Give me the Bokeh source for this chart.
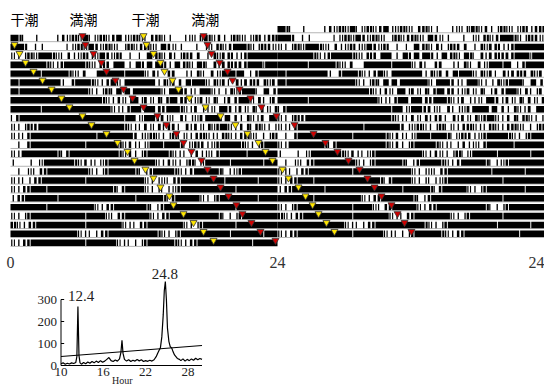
from bokeh.plotting import figure
from bokeh.models import Range1d
from bokeh.core.properties import value
from bokeh.embed import file_html
from bokeh.resources import INLINE

# ---------------- data ----------------
# activity per day, 48 half-hour bins:
# '#' black, ':' black with thin white gap, 'n' black with two gaps, 'b' first half black,
# 'd' second half black, 'm' short burst, 'i' / 'j' / 'l' one thin burst, 'k' two thin bursts, '.' none
day_activity = [
    "#:j.l...imk:" "k#jk:km#lk:k" "jm:kl..ikjn:" "kmil:kjk:lm:",
    "##:.il....jk" ":k#mk:kjl:km" ":kj#mkl..i.k" "j:km##:kl:mk",
    "kil:k##:kjmi" "k:lk#mk:.i.j" "db:kdil:md.i" "dkb:li:#####",
    "######:ki:##" "#:kj:md#bid:" "db#:ldb:kd:j" "dib:mb:##n##",
    "#####:####:k" "jb.d####:###" "kdi.mb.lidk." "bk##:#.j:###",
    "#:#######i.:" "##:kim#kd###" "##ldkbmd:##k" "dkbjdib:mdkb",
    "#:##########" "##kil:j#db##" "###kd##mij##" "kildk:##jdbm",
    "############" "####:kimkd#l" "bkdj:#dmikbk" "djibm##kdilb",
    "#####:######" "######kij:#b" "##dm##:kibli" "kd#mibkdjbkd",
    "j:##########" "########:#bk" "##mbkjdilkb#" "##dbmidkibd#",
    "kil:m#######" "########:kij" "bkdimbjdibkd" "k:#kimdj:kil",
    "kij:########" "###:######ml" "k:kil:jkim:k" "ij:kim:kjil:",
    ".i.:########" "#:#####:kmij" "k##:##:jk:mi" "k:###:kil:##",
    "ki######:j:#" "#######:kmil" ":###:kijimik" "j:####:#####",
    "i..l.k#####:" "kmijk:######" "##kimkil:jk#" "###:#####:##",
    ".i.kjm:#####" "##kil:####:j" "i:###:kim###" "#:jik:######",
    "kijim:######" "#:##########" "kilkjm:#####" "##:#####:###",
    "kim:##:#####" "######:j:###" "kiljik:#####" "####:#######",
    "im:#####:###" "##########:#" "###:j:####ki" "l:######:###",
    "######:#####" "###kim:#####" ":ji:########" "####:#######",
    "kil:########" "#:###kjm:###" "#kim:#######" "#:jil:######",
    ":kim:#######" "#:######kijm" ":######kil:#" "####:#######",
    "############" "kijim:######" "##:kil:#####" "###:#####:##",
    "kim:########" "#:#####kijil" ":####:kim:##" "#######:####",
]

# tide markers (row index, hour on the double-plotted 0-48 h axis)
low_a_rows = list(range(2, 25))
low_a_hours = [0.36, 0.81, 1.35, 2.07, 2.88, 3.69, 4.58, 5.30, 6.47, 7.28, 8.63, 9.62,
               10.52, 11.15, 12.13, 12.85, 13.48, 14.29, 14.65, 15.55, 16.45, 17.35, 18.25]
low_b_rows = list(range(1, 24))
low_b_hours = [11.96, 12.22, 12.85, 13.48, 13.84, 14.56, 15.10, 16.09, 17.53, 18.88, 20.22,
               21.30, 22.29, 22.92, 23.55, 24.45, 24.99, 25.89, 26.52, 27.15, 27.69, 28.40, 29.12]
high_a_rows = list(range(1, 25))
high_a_hours = [6.47, 6.74, 7.46, 8.18, 8.63, 9.44, 10.16, 10.97, 11.96, 13.21, 14.02, 14.92,
                15.55, 16.27, 17.17, 17.71, 18.25, 18.88, 19.60, 20.31, 20.85, 21.66, 22.47, 23.82]
high_b_rows = list(range(1, 24))
high_b_hours = [17.35, 17.71, 18.07, 18.79, 19.51, 19.96, 20.58, 21.57, 22.56, 23.91, 25.53,
                27.24, 28.31, 29.39, 30.38, 31.37, 32.09, 32.72, 33.35, 34.25, 34.79, 35.42, 36.04]

tide_labels = ["干潮", "満潮", "干潮", "満潮"]
tide_label_hours = [1.26, 6.56, 12.13, 17.5]

acto_ticks = [0, 24, 48]
acto_tick_labels = ["0", "24", "24"]

# periodogram
periods = [10.0, 10.3, 10.6, 10.9, 11.2, 11.5, 11.8, 12.1, 12.25, 12.4, 12.55, 12.7, 12.9,
           13.2, 13.5, 13.8, 14.1, 14.4, 14.7, 15.0, 15.3, 15.6, 15.9, 16.2, 16.5, 16.8,
           17.1, 17.4, 17.7, 18.0, 18.3, 18.5, 18.65, 18.8, 19.0, 19.3, 19.6, 19.9, 20.2,
           20.5, 20.8, 21.1, 21.4, 21.7, 22.0, 22.3, 22.6, 22.9, 23.2, 23.5, 23.7, 23.9,
           24.1, 24.3, 24.5, 24.65, 24.8, 24.95, 25.1, 25.3, 25.5, 25.7, 25.9, 26.1, 26.3,
           26.5, 26.8, 27.0, 27.3, 27.6, 27.9, 28.2, 28.5, 28.8, 29.1, 29.4, 29.7, 30.0]
power = [8, 12, 6, 10, 7, 12, 9, 14, 40, 268, 45, 12, 6,
         14, 8, 16, 10, 18, 12, 20, 14, 22, 15, 20, 28, 36,
         22, 18, 25, 20, 30, 60, 115, 55, 28, 20, 26, 18, 24,
         20, 27, 21, 26, 18, 22, 19, 24, 20, 26, 40, 55, 68,
         80, 130, 230, 340, 382, 300, 170, 110, 85, 80, 62, 48, 40,
         32, 28, 22, 30, 20, 28, 22, 30, 24, 33, 26, 32, 28]
sig_periods = [10, 30]
sig_power = [41, 91]
per_xticks = [10, 16, 22, 28]
per_yticks = [0, 100, 200, 300]
peak_labels = ["12.4", "24.8"]
peak_label_x = [12.85, 24.75]
peak_label_y = [314, 418]

# ---------------- figure ----------------
W, H = 544, 385
p = figure(width=W, height=H, output_backend="svg", toolbar_location=None,
           x_range=Range1d(-0.899, 48.0), y_range=Range1d(40.40, -2.854),
           x_axis_type=None, y_axis_type=None, min_border=0)
p.grid.visible = False
p.outline_line_color = None
p.extra_x_ranges = {"ph": Range1d(1.418, 78.58)}
p.extra_y_ranges = {"pv": Range1d(-90.9, 1659.1)}

BAR = 0.72
BIN = 0.5
PATTERN = {
    "#": [(0.0, 1.0)],
    ":": [(0.0, 0.45), (0.62, 1.0)],
    "n": [(0.0, 0.3), (0.45, 0.62), (0.78, 1.0)],
    "b": [(0.0, 0.5)],
    "d": [(0.5, 1.0)],
    "m": [(0.25, 0.7)],
    "i": [(0.38, 0.62)],
    "j": [(0.06, 0.28)],
    "l": [(0.6, 0.84)],
    "k": [(0.12, 0.34), (0.6, 0.8)],
    ".": [],
}
blk = dict(left=[], right=[], top=[], bottom=[])
base = dict(x0=[], x1=[], y=[])

for i, s in enumerate(day_activity):
    s = (s + "." * 48)[:48]
    day = i + 1
    segs = []
    for b, c in enumerate(s):
        for f0, f1 in PATTERN.get(c, []):
            a, e = (b + f0) * BIN, (b + f1) * BIN
            if segs and abs(segs[-1][1] - a) < 1e-9:
                segs[-1][1] = e
            else:
                segs.append([a, e])
    for row, off in ((day, 0.0), (day - 1, 24.0)):
        base["x0"].append(off)
        base["x1"].append(off + 24)
        base["y"].append(row + BAR + 0.05)
        for a, e in segs:
            blk["left"].append(off + a)
            blk["right"].append(off + e)
            blk["top"].append(row)
            blk["bottom"].append(row + BAR)

p.segment(x0="x0", x1="x1", y0="y", y1="y", source=base, line_color="#b4b4b4", line_width=1)
p.quad(source=blk, color="black", line_color=None)

tri = dict(marker="inverted_triangle", size=7, line_color="#333333", line_width=0.8)
p.scatter(low_a_hours, [r + 0.1 for r in low_a_rows], fill_color="#ffe600", **tri)
p.scatter(low_b_hours, [r + 0.1 for r in low_b_rows], fill_color="#ffe600", **tri)
p.scatter(high_a_hours, [r + 0.1 for r in high_a_rows], fill_color="#d00000", **tri)
p.scatter(high_b_hours, [r + 0.1 for r in high_b_rows], fill_color="#d00000", **tri)

p.text(x=tide_label_hours, y=[-0.83] * 4, text=tide_labels,
       text_font=value("Noto Sans CJK JP"), text_font_size="14px",
       text_align="center", text_baseline="middle", text_color="black")

lab_y = 26.6
p.text(x=acto_ticks[:2], y=[lab_y] * 2, text=acto_tick_labels[:2],
       text_font=value("Liberation Serif"), text_font_size="16px",
       text_align="center", text_baseline="middle", text_color="#333333")
p.text(x=acto_ticks[2:], y=[lab_y], text=acto_tick_labels[2:],
       text_font=value("Liberation Serif"), text_font_size="16px",
       text_align="right", text_baseline="middle", text_color="#333333")

# ---- periodogram ----
pr = dict(x_range_name="ph", y_range_name="pv")
p.line(periods, power, line_color="black", line_width=1.2, **pr)
p.line(sig_periods, sig_power, line_color="black", line_width=1.2, **pr)
p.segment(x0=[per_xticks[0], per_xticks[0]], y0=[per_yticks[0], per_yticks[0]],
          x1=[30, per_xticks[0]], y1=[per_yticks[0], per_yticks[-1]],
          line_color="black", line_width=1, **pr)
p.segment(x0=[per_xticks[0]] * 4, y0=per_yticks, x1=[per_xticks[0] + 0.45] * 4, y1=per_yticks,
          line_color="black", line_width=1, **pr)
p.text(x=[per_xticks[0]] * 4, y=per_yticks, text=[str(v) for v in per_yticks],
       x_offset=-4, text_align="right", text_baseline="middle",
       text_font=value("Liberation Serif"), text_font_size="13px", text_color="#222222", **pr)
p.text(x=per_xticks, y=[0] * 4, text=[str(v) for v in per_xticks],
       y_offset=2, text_align="center", text_baseline="top",
       text_font=value("Liberation Serif"), text_font_size="13px", text_color="#222222", **pr)
p.text(x=peak_label_x, y=peak_label_y, text=peak_labels,
       text_align="center", text_baseline="middle",
       text_font=value("Liberation Serif"), text_font_size="15px", text_color="#222222", **pr)
p.text(x=[18.7], y=[-90.9], text=["Hour"], text_align="center", text_baseline="bottom",
       text_font=value("Liberation Serif"), text_font_size="10px", text_color="#222222", **pr)

open("out.html", "w").write(file_html(p, INLINE))
